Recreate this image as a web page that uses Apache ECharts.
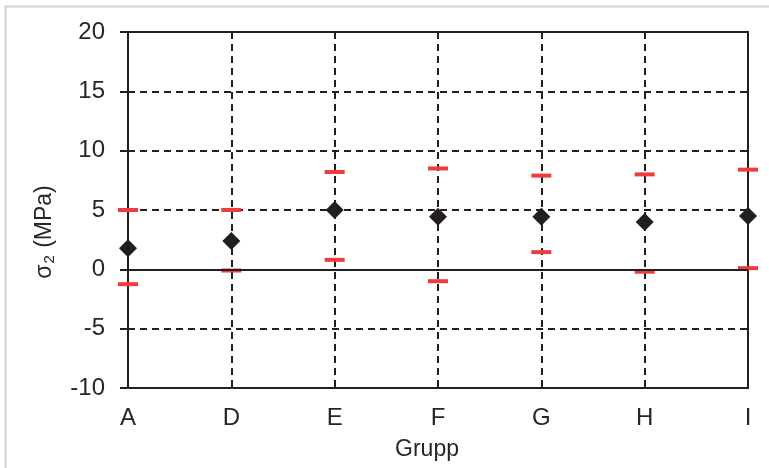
<!DOCTYPE html>
<html>
<head>
<meta charset="utf-8">
<script src="https://cdn.jsdelivr.net/npm/echarts@6/dist/echarts.min.js"></script>
<style>
html,body{margin:0;padding:0;background:#fff;}
#c{width:769px;height:468px;}
</style>
</head>
<body>
<div id="c"></div>
<script>
var categories = ['A', 'D', 'E', 'F', 'G', 'H', 'I'];
var meanValues = [1.77, 2.38, 5.0, 4.43, 4.43, 3.99, 4.49];
var upperValues = [5.0, 5.0, 8.2, 8.5, 7.9, 8.0, 8.4];
var lowerValues = [-1.25, -0.1, 0.8, -1.0, 1.45, -0.2, 0.1];
var yTicks = { min: -10, max: 20, interval: 5 };

var ink = '#231f20';
var red = '#ee3b3b';
var txt = '#262626';
var font = 'Liberation Sans, Arial, sans-serif';

var chart = echarts.init(document.getElementById('c'), null, { renderer: 'canvas' });
chart.setOption({
  animation: false,
  backgroundColor: '#fff',
  grid: {
    left: 128, right: 21, top: 32, bottom: 80,
    show: true, borderColor: ink, borderWidth: 2, backgroundColor: 'transparent'
  },
  xAxis: {
    type: 'category',
    data: categories,
    boundaryGap: false,
    axisLine: { onZero: false, lineStyle: { color: ink, width: 2 } },
    axisTick: { show: false },
    axisLabel: { color: txt, fontSize: 24, fontFamily: font, margin: 18 },
    splitLine: { show: true, lineStyle: { color: ink, width: 2, type: [7, 5] } },
    name: 'Grupp',
    nameLocation: 'middle',
    nameGap: 50,
    nameTextStyle: { color: txt, fontSize: 23, fontFamily: font, padding: [0, 22, 0, 0] }
  },
  yAxis: {
    type: 'value',
    min: yTicks.min, max: yTicks.max, interval: yTicks.interval,
    axisLine: { show: true, lineStyle: { color: ink, width: 2 } },
    axisTick: { show: true, length: 8, lineStyle: { color: ink, width: 2 } },
    axisLabel: { color: txt, fontSize: 24, fontFamily: font, margin: 23 },
    splitLine: { show: true, lineStyle: { color: ink, width: 2, type: [7, 5] } }
  },
  graphic: [
    { type: 'line', shape: { x1: 5, y1: 6.5, x2: 769, y2: 6.5 }, style: { stroke: '#d3d3d3', lineWidth: 2 }, silent: true },
    { type: 'line', shape: { x1: 5.5, y1: 6, x2: 5.5, y2: 468 }, style: { stroke: '#d3d3d3', lineWidth: 2 }, silent: true },
    {
      type: 'text', x: 45, y: 232, rotation: Math.PI / 2,
      style: {
        text: '{s|σ}{sub|2}{s| (MPa)}',
        align: 'center', verticalAlign: 'middle',
        rich: {
          s: { fontSize: 23, fontFamily: font, fill: txt, color: txt },
          sub: { fontSize: 15, fontFamily: font, fill: txt, color: txt, padding: [10, 1, 0, 1] }
        }
      }
    }
  ],
  series: [
    {
      type: 'line', data: [], silent: true,
      markLine: {
        silent: true, symbol: 'none', label: { show: false },
        lineStyle: { color: ink, width: 2, type: 'solid', opacity: 1 },
        data: [{ yAxis: 0 }]
      }
    },
    {
      type: 'scatter', name: 'upper', data: upperValues,
      symbol: 'rect', symbolSize: [20, 4],
      itemStyle: { color: red, opacity: 1 }, z: 3
    },
    {
      type: 'scatter', name: 'lower', data: lowerValues,
      symbol: 'rect', symbolSize: [20, 4],
      itemStyle: { color: red, opacity: 1 }, z: 3
    },
    {
      type: 'scatter', name: 'mean', data: meanValues,
      symbol: 'diamond', symbolSize: 18,
      itemStyle: { color: ink, opacity: 1 }, z: 4
    }
  ]
});
</script>
</body>
</html>
